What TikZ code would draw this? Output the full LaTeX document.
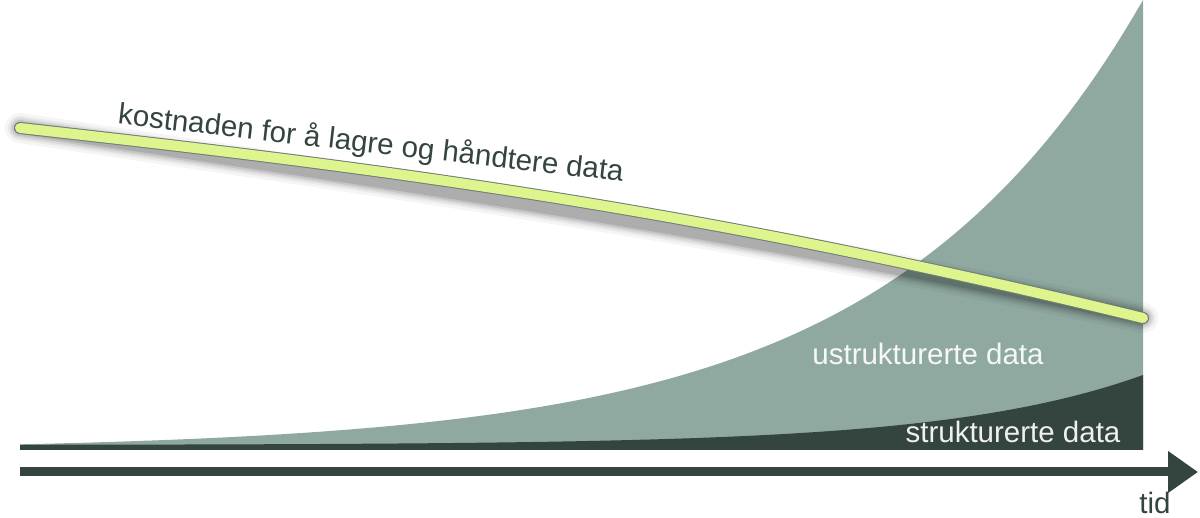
\documentclass[tikz,border=0pt]{standalone}
\usepackage{fontspec}
\setmainfont{Liberation Sans}
\usetikzlibrary{arrows.meta}
\begin{document}
\begin{tikzpicture}[x=1pt,y=-1pt,
  lbl/.style={font=\fontsize{29.5}{32}\selectfont},
  costline/.style={line width=10pt,line cap=round,color=costgreen}]
\definecolor{lightarea}{HTML}{8FA9A1}
\definecolor{darkarea}{HTML}{34443F}
\definecolor{costgreen}{HTML}{DDF58C}
\useasboundingbox (0,0) rectangle (1200,518);
\fill[lightarea] (20,450) -- plot[domain=20:1143,samples=120] (\x,{450-450*exp(0.00389*(\x-1143))}) -- (1143,450) -- cycle;
\fill[darkarea] (20,450) -- plot[domain=20:1143,samples=120] (\x,{445-70*exp(0.00516*(\x-1143))}) -- (1143,450) -- cycle;
\coordinate (c0) at (20,128);
\coordinate (c1) at (1143,318);
% shadow
\foreach \w/\o in {30/0.04,24/0.05,20/0.07,16/0.09,12/0.12}{
  \draw[line width=\w pt,line cap=round,black,opacity=\o,shift={(4,16)}] (c0) .. controls (400,170) and (700,210) .. (c1);}
\draw[line width=12pt,line cap=round,darkarea!70] (c0) .. controls (400,170) and (700,210) .. (c1);
\draw[costline] (c0) .. controls (400,170) and (700,210) .. (c1);
\node[lbl,text=darkarea,rotate=-6.5] (cost) at (371,144) {kostnaden for å lagre og håndtere data};
\node[lbl,text=white!92!lightarea] (u) at (928,354) {ustrukturerte data};
\node[lbl,text=white!92!darkarea] (s) at (1013,432) {strukturerte data};
\coordinate (a0) at (20,472);
\coordinate (a1) at (1198,472);
\draw[darkarea,line width=9pt,-{Triangle[length=30pt,width=40pt]}] (a0) -- (a1);
\node[lbl,text=darkarea] (t) at (1155,503) {tid};
\end{tikzpicture}
\end{document}
